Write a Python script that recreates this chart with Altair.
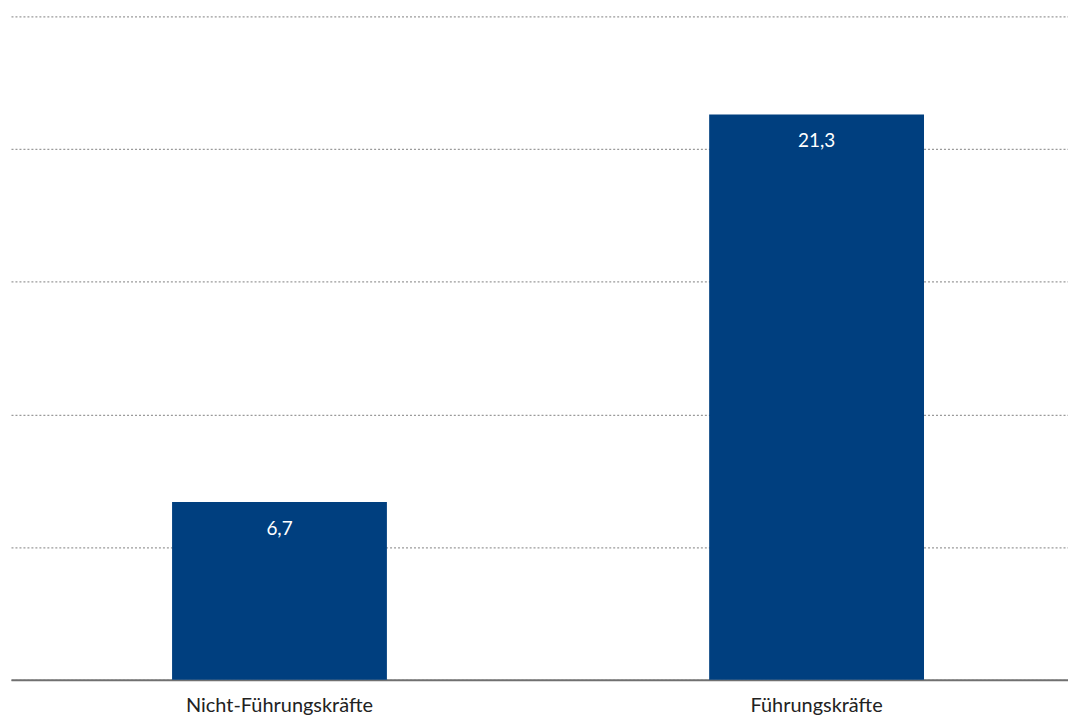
import altair as alt
import pandas as pd

categories = ["Nicht-Führungskräfte", "Führungskräfte"]
values = [6.7, 21.3]

df = pd.DataFrame({
    "cat": categories,
    "val": values,
    "label": [f"{v:.1f}".replace(".", ",") for v in values],
})

FONT = "Lato"
BLUE = "#003f7f"

x = alt.X("cat:N", sort=categories, title=None,
          scale=alt.Scale(paddingInner=0.6, paddingOuter=0.284, align=0.528, round=False),
          axis=alt.Axis(labelAngle=0, labelFontSize=20, labelFont=FONT, labelColor="#222222",
                        labelPadding=16, labelLimit=500, ticks=False, domainColor="#707070",
                        domainWidth=2, grid=False))
y = alt.Y("val:Q", title=None,
          scale=alt.Scale(domain=[0, 25], nice=False),
          axis=alt.Axis(values=[0, 5, 10, 15, 20, 25], labels=False, ticks=False, domain=False,
                        grid=True, gridColor="#9a9a9a", gridDash=[2, 2], gridWidth=1.3))

bars = alt.Chart(df).mark_bar(color=BLUE).encode(x=x, y=y)
text = alt.Chart(df).mark_text(color="white", font=FONT, fontSize=19, baseline="middle", dy=27).encode(
    x=alt.X("cat:N", sort=categories), y="val:Q", text="label:N")

chart = (bars + text).properties(
    width=1061, height=666,
    padding={"left": 3, "top": 7, "right": 0, "bottom": 38},
    autosize=alt.AutoSizeParams(type="none"),
    background="white",
).configure_view(stroke=None)

chart.save("out.html", embed_options={"renderer": "svg", "actions": False})
